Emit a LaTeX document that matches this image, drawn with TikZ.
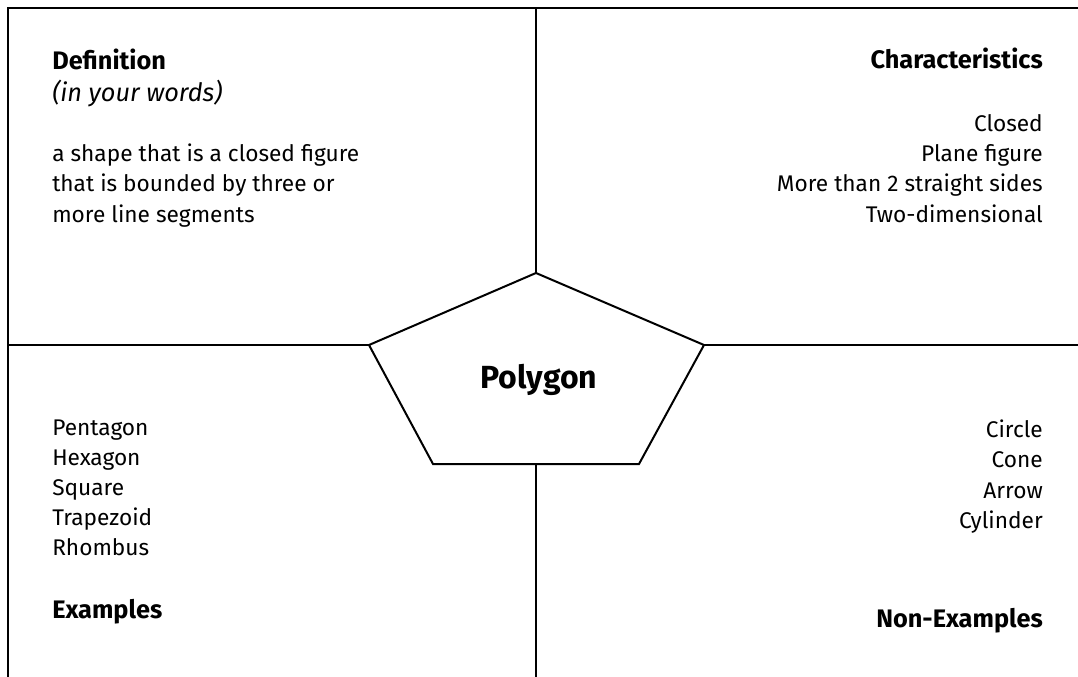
\documentclass[tikz,border=0pt]{standalone}
\usepackage{fontspec}
\setmainfont{Fira Sans}
\begin{document}
\begin{tikzpicture}[x=0.75pt,y=-0.75pt,
    rule/.style={line width=1.5pt,black},
    body/.style={inner sep=0pt,font=\fontsize{17}{20}\selectfont},
    head/.style={inner sep=0pt,font=\fontsize{19}{23}\selectfont\bfseries},
    note/.style={inner sep=0pt,font=\fontsize{19}{23}\selectfont\itshape},
    lefttext/.style={anchor=base west},
    righttext/.style={anchor=base east}]
  \useasboundingbox (0,0) rectangle (1078,677);

  % frame corners and ends of the dividing lines
  \coordinate (tl) at (8,8);
  \coordinate (tr) at (1078,8);
  \coordinate (bl) at (8,677);
  \coordinate (vtop) at (536,8);
  \coordinate (vbot) at (536,677);
  \coordinate (hleft) at (8,345);
  \coordinate (hright) at (1078,345);

  % pentagon corners
  \coordinate (p1) at (536,273);
  \coordinate (p2) at (704,345);
  \coordinate (p3) at (639,464);
  \coordinate (p4) at (433,464);
  \coordinate (p5) at (369,345);
  \coordinate (pb) at (536,464);

  \draw[rule] (bl) -- (tl) -- (tr);
  \draw[rule] (vtop) -- (p1);
  \draw[rule] (pb) -- (vbot);
  \draw[rule] (hleft) -- (p5);
  \draw[rule] (p2) -- (hright);
  \draw[rule,line join=miter] (p1) -- (p2) -- (p3) -- (p4) -- (p5) -- cycle;

  \node[inner sep=0pt,anchor=base,font=\fontsize{24}{29}\selectfont\bfseries] (title) at (539,388) {Polygon};

  % definition
  \node[head,lefttext] (defh) at (52,70) {Definition};
  \node[note,lefttext] (defs) at (52,102) {(in your words)};
  \node[body,lefttext] (d1) at (52,162) {a shape that is a closed figure};
  \node[body,lefttext] (d2) at (52,192) {that is bounded by three or};
  \node[body,lefttext] (d3) at (52,223) {more line segments};

  % characteristics
  \node[head,righttext] (chh) at (1043,69) {Characteristics};
  \node[body,righttext] (c1) at (1043,132) {Closed};
  \node[body,righttext] (c2) at (1043,162) {Plane figure};
  \node[body,righttext] (c3) at (1043,192) {More than 2 straight sides};
  \node[body,righttext] (c4) at (1043,223) {Two-dimensional};

  % examples
  \node[body,lefttext] (e1) at (52,435) {Pentagon};
  \node[body,lefttext] (e2) at (52,465) {Hexagon};
  \node[body,lefttext] (e3) at (52,495) {Square};
  \node[body,lefttext] (e4) at (52,525) {Trapezoid};
  \node[body,lefttext] (e5) at (52,555) {Rhombus};
  \node[head,lefttext] (exh) at (52,618) {Examples};

  % non-examples
  \node[body,righttext] (n1) at (1043,437) {Circle};
  \node[body,righttext] (n2) at (1043,467) {Cone};
  \node[body,righttext] (n3) at (1043,498) {Arrow};
  \node[body,righttext] (n4) at (1043,528) {Cylinder};
  \node[head,righttext] (nxh) at (1043,627) {Non-Examples};
\end{tikzpicture}
\end{document}
